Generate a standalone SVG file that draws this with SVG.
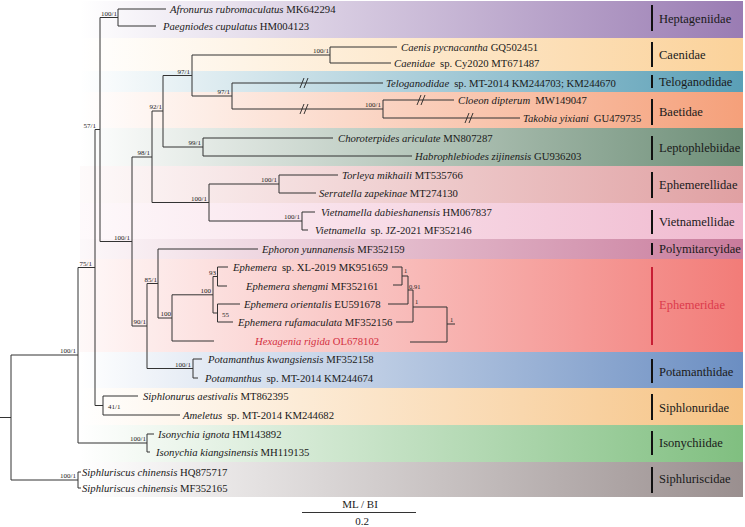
<svg xmlns="http://www.w3.org/2000/svg" width="745" height="527" viewBox="0 0 745 527">
<style>
.br{fill:none;stroke:#333;stroke-width:1}
.brk{fill:none;stroke:#222;stroke-width:0.9}
.t{font-family:"Liberation Serif","Times New Roman",serif;fill:#1a1a1a}
.lf{font-size:10.7px}
.i{font-style:italic}
.sup{font-size:7px;fill:#222}
.bi{font-size:6.5px;fill:#222}
.fam{font-size:12.5px}
.bar{stroke:#111;stroke-width:2}
.red{fill:#d3303f}
</style>
<defs>
<linearGradient id="gHep"><stop offset="0" stop-color="#9a7cb3" stop-opacity="0"/><stop offset="1" stop-color="#9a7cb3"/></linearGradient>
<linearGradient id="gCae"><stop offset="0" stop-color="#fbd29a" stop-opacity="0"/><stop offset="1" stop-color="#fbd29a"/></linearGradient>
<linearGradient id="gTel"><stop offset="0" stop-color="#5a9fb6" stop-opacity="0"/><stop offset="1" stop-color="#5a9fb6"/></linearGradient>
<linearGradient id="gBae"><stop offset="0" stop-color="#f5a07a" stop-opacity="0"/><stop offset="1" stop-color="#f5a07a"/></linearGradient>
<linearGradient id="gLep"><stop offset="0" stop-color="#6e8f78" stop-opacity="0"/><stop offset="1" stop-color="#6e8f78"/></linearGradient>
<linearGradient id="gEpl"><stop offset="0" stop-color="#e0a0a2" stop-opacity="0.05"/><stop offset="1" stop-color="#e0a0a2"/></linearGradient>
<linearGradient id="gVie"><stop offset="0" stop-color="#f0b9cf" stop-opacity="0.08"/><stop offset="1" stop-color="#f0b9cf"/></linearGradient>
<linearGradient id="gPol"><stop offset="0" stop-color="#c97b9c" stop-opacity="0.05"/><stop offset="1" stop-color="#c97b9c"/></linearGradient>
<linearGradient id="gEph"><stop offset="0" stop-color="#f27c78" stop-opacity="0.05"/><stop offset="1" stop-color="#f27c78"/></linearGradient>
<linearGradient id="gPot"><stop offset="0" stop-color="#6b8ec2" stop-opacity="0"/><stop offset="1" stop-color="#6b8ec2"/></linearGradient>
<linearGradient id="gSpn"><stop offset="0" stop-color="#f6c384" stop-opacity="0"/><stop offset="1" stop-color="#f6c384"/></linearGradient>
<linearGradient id="gIso"><stop offset="0" stop-color="#80bf80" stop-opacity="0"/><stop offset="1" stop-color="#80bf80"/></linearGradient>
<linearGradient id="gSps"><stop offset="0" stop-color="#9a8f8f" stop-opacity="0"/><stop offset="1" stop-color="#9a8f8f"/></linearGradient>
</defs>
<rect width="745" height="527" fill="#fff"/>
<g id="bands">
<rect x="80" y="1" width="663" height="37" fill="url(#gHep)"/>
<rect x="80" y="38" width="663" height="33" fill="url(#gCae)"/>
<rect x="80" y="71" width="663" height="21" fill="url(#gTel)"/>
<rect x="80" y="92" width="663" height="36" fill="url(#gBae)"/>
<rect x="80" y="128" width="663" height="38" fill="url(#gLep)"/>
<rect x="80" y="166" width="663" height="37" fill="url(#gEpl)"/>
<rect x="80" y="203" width="663" height="36" fill="url(#gVie)"/>
<rect x="80" y="239" width="663" height="20" fill="url(#gPol)"/>
<rect x="80" y="259" width="663" height="93" fill="url(#gEph)"/>
<rect x="80" y="352" width="663" height="36" fill="url(#gPot)"/>
<rect x="80" y="388" width="663" height="37" fill="url(#gSpn)"/>
<rect x="80" y="425" width="663" height="37" fill="url(#gIso)"/>
<rect x="80" y="462" width="663" height="35" fill="url(#gSps)"/>
</g>
<g id="connectors">
<path class="br" d="M0,417.5H11M11,355V480M11,355H78M11,480H78
M78,267.5V443M78,267.5H95M78,443H147
M95,129.5V405.5M95,129.5H100M95,405.5H103
M103,396V415M103,396H138M103,415H180
M147,434V452M147,434H154M147,452H150
M78,472V488M78,472H81M78,488H81
M100,17.5V241.5M100,17.5H118M100,241.5H132
M118,9V26M118,9H166M118,26H156
M132,157V326M132,157H152M132,326H147
M152,111V202.5M152,111H163M152,202.5H209
M163,75.5V147M163,75.5H192M163,147H203
M192,55V96M192,55H330M192,96H232
M330,47V63M330,47H397M330,63H391
M232,83V109M232,83H383M232,109H383
M383,100V118M383,100H454M383,118H520
M203,138V156M203,138H333M203,156H412
M209,184V221M209,184H279M209,221H302
M279,175V193M279,175H338M279,193H316
M302,212V230M302,212H315M302,230H308
M147,283.5V368.5M147,283.5H158M147,368.5H193
M193,359V378M193,359H202M193,378H198
M158,249V318M158,249H258M158,318H172
M172,294.8V341M172,294.8H213M172,341H214
M213,276.5V313M213,276.5H217.5M213,313H217.5
M217.5,267V286M217.5,267H228M217.5,286H227
M217.5,304V322M217.5,304H240M217.5,322H233"/>
<path class="br" d="M392,267H402V285H393M402,276H408M408,276V304H388M408,290H413M413,290V322H396M413,307H447M447,307V342H410M447,324H455"/>
<path class="brk" d="M300,88L304,78M304,88L308,78M300,114L304,104M304,114L308,104M417,105L421,95M421,105L425,95M465,123L469,113M469,123L473,113"/>
</g>
<g id="support" class="t">
<text class="sup" x="117" y="15.5" text-anchor="end">100/1</text>
<text class="sup" x="329" y="53" text-anchor="end">100/1</text>
<text class="sup" x="190" y="73.5" text-anchor="end">97/1</text>
<text class="sup" x="230" y="94" text-anchor="end">97/1</text>
<text class="sup" x="381" y="107" text-anchor="end">100/1</text>
<text class="sup" x="162" y="109" text-anchor="end">92/1</text>
<text class="sup" x="201" y="145" text-anchor="end">99/1</text>
<text class="sup" x="150" y="155" text-anchor="end">98/1</text>
<text class="sup" x="277" y="182" text-anchor="end">100/1</text>
<text class="sup" x="300" y="219" text-anchor="end">100/1</text>
<text class="sup" x="207" y="200.5" text-anchor="end">100/1</text>
<text class="sup" x="130" y="239.5" text-anchor="end">100/1</text>
<text class="sup" x="96" y="127.5" text-anchor="end">57/1</text>
<text class="sup" x="92" y="265.5" text-anchor="end">75/1</text>
<text class="sup" x="76" y="353" text-anchor="end">100/1</text>
<text class="sup" x="108" y="409">41/1</text>
<text class="sup" x="146" y="441" text-anchor="end">100/1</text>
<text class="sup" x="76" y="478" text-anchor="end">100/1</text>
<text class="sup" x="191" y="366.5" text-anchor="end">100/1</text>
<text class="sup" x="146" y="324" text-anchor="end">90/1</text>
<text class="sup" x="157" y="281.5" text-anchor="end">85/1</text>
<text class="sup" x="171" y="316" text-anchor="end">100</text>
<text class="sup" x="211" y="293" text-anchor="end">100</text>
<text class="sup" x="216" y="274.5" text-anchor="end">93</text>
<text class="sup" x="222" y="317">55</text>
<text class="bi" x="404" y="273">1</text>
<text class="bi" x="409" y="289">0.91</text>
<text class="bi" x="415" y="304">1</text>
<text class="bi" x="450" y="322">1</text>
</g>
<g id="leaves" class="t lf">
<g id="leaf-afronurus"><text x="170" y="12.7"><tspan class="i">Afronurus rubromaculatus</tspan> MK642294</text></g>
<g id="leaf-paegniodes"><text x="163" y="29.7"><tspan class="i">Paegniodes cupulatus</tspan> HM004123</text></g>
<g id="leaf-caenis"><text x="401" y="50.7"><tspan class="i">Caenis pycnacantha</tspan> GQ502451</text></g>
<g id="leaf-caenidae"><text x="394" y="66.7"><tspan class="i">Caenidae</tspan><tspan dx="5">sp. Cy2020 MT671487</tspan></text></g>
<g id="leaf-teloganodidae"><text x="386" y="86.7"><tspan class="i">Teloganodidae</tspan><tspan dx="5">sp. MT-2014 KM244703; KM244670</tspan></text></g>
<g id="leaf-cloeon"><text x="458" y="103.7"><tspan class="i">Cloeon dipterum</tspan><tspan dx="5">MW149047</tspan></text></g>
<g id="leaf-takobia"><text x="523" y="121.7"><tspan class="i">Takobia yixiani</tspan><tspan dx="5">GU479735</tspan></text></g>
<g id="leaf-choroterpides"><text x="338" y="141.7"><tspan class="i">Choroterpides ariculate</tspan> MN807287</text></g>
<g id="leaf-habrophlebiodes"><text x="415" y="159.7"><tspan class="i">Habrophlebiodes zijinensis</tspan> GU936203</text></g>
<g id="leaf-torleya"><text x="342" y="178.7"><tspan class="i">Torleya mikhaili</tspan> MT535766</text></g>
<g id="leaf-serratella"><text x="319" y="196.7"><tspan class="i">Serratella zapekinae</tspan> MT274130</text></g>
<g id="leaf-vietnamella-d"><text x="321" y="215.7"><tspan class="i">Vietnamella dabieshanensis</tspan> HM067837</text></g>
<g id="leaf-vietnamella-sp"><text x="315" y="233.7"><tspan class="i">Vietnamella</tspan><tspan dx="5">sp. JZ-2021 MF352146</tspan></text></g>
<g id="leaf-ephoron"><text x="262" y="252.7"><tspan class="i">Ephoron yunnanensis</tspan> MF352159</text></g>
<g id="leaf-ephemera-sp"><text x="233" y="270.7"><tspan class="i">Ephemera</tspan><tspan dx="5">sp. XL-2019 MK951659</tspan></text></g>
<g id="leaf-ephemera-shengmi"><text x="246" y="289.7"><tspan class="i">Ephemera shengmi</tspan> MF352161</text></g>
<g id="leaf-ephemera-orientalis"><text x="244" y="307.7"><tspan class="i">Ephemera orientalis</tspan> EU591678</text></g>
<g id="leaf-ephemera-rufamaculata"><text x="238" y="325.7"><tspan class="i">Ephemera rufamaculata</tspan> MF352156</text></g>
<g id="leaf-hexagenia"><text class="red" x="255" y="344.7"><tspan class="i">Hexagenia rigida</tspan> OL678102</text></g>
<g id="leaf-potamanthus-k"><text x="208" y="362.7"><tspan class="i">Potamanthus kwangsiensis</tspan> MF352158</text></g>
<g id="leaf-potamanthus-sp"><text x="205" y="381.7"><tspan class="i">Potamanthus</tspan><tspan dx="5">sp. MT-2014 KM244674</tspan></text></g>
<g id="leaf-siphlonurus"><text x="143" y="399.7"><tspan class="i">Siphlonurus aestivalis</tspan> MT862395</text></g>
<g id="leaf-ameletus"><text x="183" y="418.7"><tspan class="i">Ameletus</tspan><tspan dx="5">sp. MT-2014 KM244682</tspan></text></g>
<g id="leaf-isonychia-i"><text x="158" y="437.7"><tspan class="i">Isonychia ignota</tspan> HM143892</text></g>
<g id="leaf-isonychia-k"><text x="156" y="455.7"><tspan class="i">Isonychia kiangsinensis</tspan> MH119135</text></g>
<g id="leaf-siphluriscus-1"><text x="82" y="475.7"><tspan class="i">Siphluriscus chinensis</tspan> HQ875717</text></g>
<g id="leaf-siphluriscus-2"><text x="82" y="491.7"><tspan class="i">Siphluriscus chinensis</tspan> MF352165</text></g>
</g>
<g id="families" class="t fam">
<g id="fam-heptageniidae"><line class="bar" x1="652" y1="5" x2="652" y2="31"/><text x="659" y="23">Heptageniidae</text></g>
<g id="fam-caenidae"><line class="bar" x1="652" y1="42" x2="652" y2="67"/><text x="659" y="59">Caenidae</text></g>
<g id="fam-teloganodidae"><line class="bar" x1="652" y1="75" x2="652" y2="88"/><text x="659" y="86">Teloganodidae</text></g>
<g id="fam-baetidae"><line class="bar" x1="652" y1="99" x2="652" y2="125"/><text x="659" y="116">Baetidae</text></g>
<g id="fam-leptophlebiidae"><line class="bar" x1="652" y1="136" x2="652" y2="160"/><text x="659" y="152">Leptophlebiidae</text></g>
<g id="fam-ephemerellidae"><line class="bar" x1="652" y1="172" x2="652" y2="198"/><text x="659" y="189">Ephemerellidae</text></g>
<g id="fam-vietnamellidae"><line class="bar" x1="652" y1="210" x2="652" y2="234"/><text x="659" y="226">Vietnamellidae</text></g>
<g id="fam-polymitarcyidae"><line class="bar" x1="652" y1="243" x2="652" y2="255"/><text x="659" y="253">Polymitarcyidae</text></g>
<g id="fam-ephemeridae"><line class="bar" x1="652" y1="267" x2="652" y2="345" style="stroke:#c81e34"/><text x="659" y="309" style="fill:#dc3a4c">Ephemeridae</text></g>
<g id="fam-potamanthidae"><line class="bar" x1="652" y1="359" x2="652" y2="383"/><text x="659" y="376">Potamanthidae</text></g>
<g id="fam-siphlonuridae"><line class="bar" x1="652" y1="394" x2="652" y2="420"/><text x="659" y="412">Siphlonuridae</text></g>
<g id="fam-isonychiidae"><line class="bar" x1="652" y1="431" x2="652" y2="455"/><text x="659" y="447">Isonychiidae</text></g>
<g id="fam-siphluriscidae"><line class="bar" x1="652" y1="467" x2="652" y2="493"/><text x="659" y="483">Siphluriscidae</text></g>
</g>
<g id="scale" class="t">
<text x="360" y="508" font-size="11" text-anchor="middle">ML / BI</text>
<line x1="302" y1="512.5" x2="416" y2="512.5" stroke="#333" stroke-width="1"/>
<text x="362" y="525" font-size="11" text-anchor="middle">0.2</text>
</g>
</svg>
